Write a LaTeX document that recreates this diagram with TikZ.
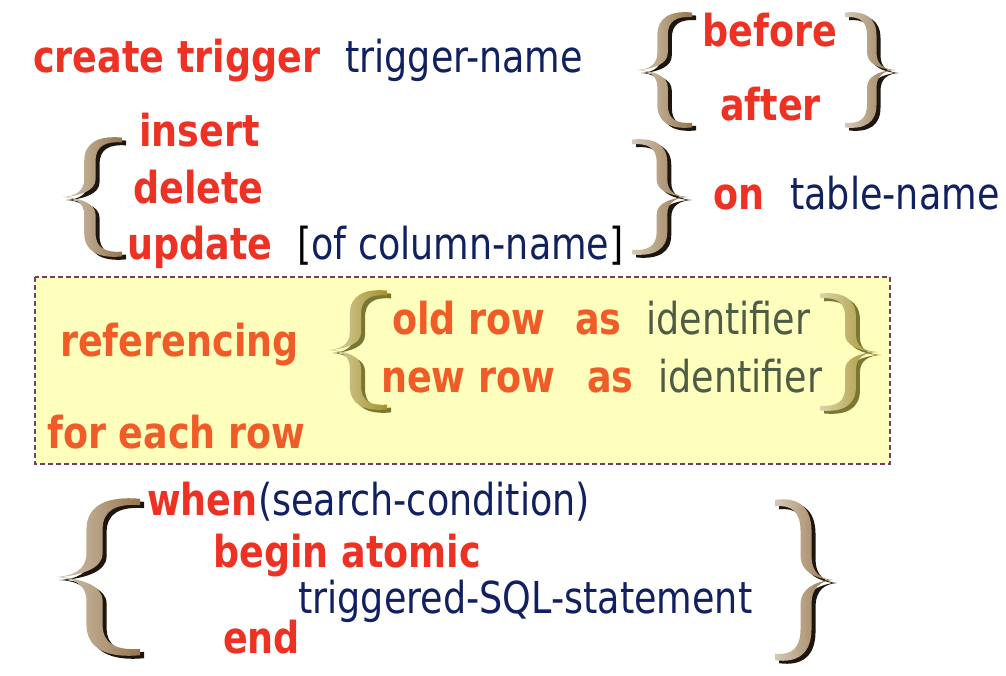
\documentclass[tikz,border=0pt]{standalone}
\usepackage{fontspec}
\setmainfont{DejaVu Sans}[FakeStretch=0.83]
\definecolor{kwred}{RGB}{237,50,36}
\definecolor{nmblue}{RGB}{16,32,96}
\definecolor{refor}{RGB}{240,92,40}
\definecolor{idgray}{RGB}{78,92,70}
\definecolor{boxfill}{RGB}{255,255,189}
\definecolor{boxedge}{RGB}{122,60,92}
\definecolor{bracebrown}{RGB}{150,118,76}
\definecolor{bracegold}{RGB}{165,145,45}
\definecolor{brownshadow}{RGB}{30,22,14}
\definecolor{goldshadow}{RGB}{120,120,50}

\newcommand{\bigfont}{\fontsize{44}{50}\selectfont}

% contour d'une accolade gauche, pointe en (0,0)
\newcommand{\bracepath}{(1,0.99) .. controls (0.6,1.03) and (0.37,0.9) .. (0.37,0.6)
  -- (0.37,0.3) .. controls (0.37,0.08) and (0.2,0.01) .. (0,0)
  .. controls (0.2,-0.01) and (0.37,-0.08) .. (0.37,-0.3) -- (0.37,-0.6)
  .. controls (0.37,-0.9) and (0.6,-1.03) .. (1,-0.99) -- (1,-0.91)
  .. controls (0.72,-0.93) and (0.56,-0.85) .. (0.56,-0.6) -- (0.56,-0.3)
  .. controls (0.56,-0.1) and (0.3,-0.03) .. (0.08,0)
  .. controls (0.3,0.03) and (0.56,0.1) .. (0.56,0.3) -- (0.56,0.6)
  .. controls (0.56,0.85) and (0.72,0.93) .. (1,0.91) -- cycle}

\begin{document}
\begin{tikzpicture}[x=1pt, y=-1pt,
    every node/.style={inner sep=0pt, anchor=base west, font=\bigfont},
    kw/.style={text=kwred, font=\bigfont\bfseries},
    nm/.style={text=nmblue},
    refkw/.style={text=refor, font=\bigfont\bfseries},
    ident/.style={text=idgray},
    refbox/.style={draw=boxedge, fill=boxfill, line width=1.2pt, dash pattern=on 5pt off 3pt}]

	\useasboundingbox (0,0) rectangle (1006,676);

	\newcommand{\mkbrace}[6]{
		%ombre
		\begin{scope}[shift={(#1+4,#2+3)}, xscale=#3, yscale=#4]
			\fill[#6] \bracepath;
		\end{scope}
		%accolade
		\begin{scope}[shift={(#1,#2)}, xscale=#3, yscale=#4]
			\shade[left color=#5!40!white, right color=#5] \bracepath;
		\end{scope}
	}

	% bloc referencing
	\draw[refbox] (35,277) rectangle (890,464);

	\mkbrace{637}{70}{55}{58}{bracebrown}{brownshadow}
	\mkbrace{895}{70}{-50}{58}{bracebrown}{brownshadow}
	\mkbrace{62}{197}{60}{60}{bracebrown}{brownshadow}
	\mkbrace{688}{197}{-56}{58}{bracebrown}{brownshadow}
	\mkbrace{328}{350}{59}{60}{bracegold}{goldshadow}
	\mkbrace{877}{352}{-57}{59}{bracegold}{goldshadow}
	\mkbrace{55}{577}{85}{79}{bracebrown}{brownshadow}
	\mkbrace{833}{580}{-58}{81}{bracebrown}{brownshadow}

	\node[kw] (create) at (33,73) {create trigger};
	\node[nm] (trigname) at (345,73) {trigger-name};
	\node[kw] (before) at (702,47) {before};
	\node[kw] (after) at (720,121) {after};

	\node[kw] (insert) at (139,147) {insert};
	\node[kw] (delete) at (133,204) {delete};
	\node[kw] (update) at (127,260) {update};
	\node[nm] (colname) at (297,260) {{\color{black}[}of column-name{\color{black}]}};
	\node[kw] (on) at (713,210) {on};
	\node[nm] (tabname) at (790,210) {table-name};

	\node[refkw] (referencing) at (60,356) {referencing};
	\node[refkw] (foreach) at (47,448) {for each row};
	\node[refkw] (oldrow) at (392,334) {old row};
	\node[refkw] (oldas) at (575,334) {as};
	\node[ident] (oldid) at (646,334) {identifier};
	\node[refkw] (newrow) at (381,392) {new row};
	\node[refkw] (newas) at (587,392) {as};
	\node[ident] (newid) at (658,392) {identifier};

	\node[kw] (when) at (147,515) {when};
	\node[nm] (searchcond) at (258,515) {(search-condition)};
	\node[kw] (begin) at (213,567) {begin atomic};
	\node[nm] (sqlstmt) at (298,613) {triggered-SQL-statement};
	\node[kw] (endkw) at (223,653) {end};

\end{tikzpicture}
\end{document}
